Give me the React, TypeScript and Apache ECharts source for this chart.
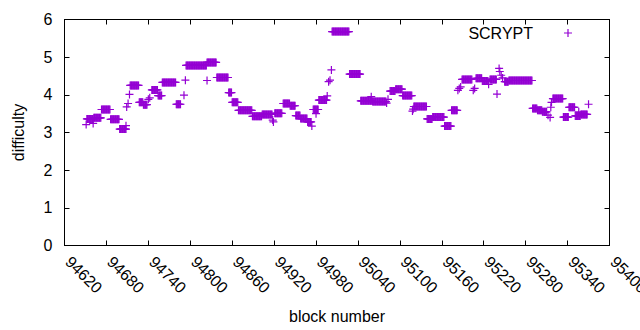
import React, { useEffect, useRef } from "react";
import * as echarts from "echarts";

// Runs of constant difficulty: [start block, end block] -> value
const runStart = [
  94652, 94662, 94673, 94686, 94699, 94714, 94727, 94733, 94745, 94754, 94760, 94780,
  94794, 94824, 94838, 94855, 94860, 94869, 94889, 94903, 94921, 94933, 94943, 94951,
  94958, 94968, 94976, 94984, 95003, 95028, 95044, 95061, 95086, 95094, 95104, 95120,
  95139, 95147, 95164, 95174, 95189, 95209, 95218, 95229, 95250, 95256, 95290, 95297,
  95304, 95319, 95334, 95342, 95351, 95359,
];
const runEnd = [
  94661, 94672, 94685, 94698, 94708, 94726, 94732, 94738, 94753, 94759, 94779, 94786,
  94823, 94837, 94854, 94859, 94868, 94888, 94902, 94917, 94931, 94942, 94950, 94957,
  94967, 94973, 94983, 94995, 95027, 95043, 95060, 95080, 95093, 95103, 95117, 95138,
  95146, 95163, 95173, 95182, 95203, 95217, 95226, 95238, 95255, 95289, 95296, 95303,
  95310, 95333, 95341, 95350, 95358, 95368,
];
const runValue = [
  3.36, 3.39, 3.61, 3.35, 3.09, 4.25, 3.80, 3.74, 4.13, 3.98, 4.33, 3.75,
  4.78, 4.86, 4.46, 4.06, 3.80, 3.59, 3.43, 3.48, 3.51, 3.77, 3.71, 3.45,
  3.37, 3.28, 3.61, 3.86, 5.68, 4.55, 3.84, 3.82, 4.10, 4.15, 3.98, 3.69,
  3.36, 3.41, 3.17, 3.59, 4.41, 4.44, 4.37, 4.41, 4.35, 4.38, 3.64, 3.59,
  3.55, 3.90, 3.41, 3.67, 3.44, 3.48,
];

// Isolated blocks
const pointBlock = [
  94651, 94661, 94708, 94709, 94711, 94713, 94740, 94742, 94791, 94793, 94824, 94918,
  94919, 94974, 94980, 94996, 94998, 95000, 95002, 95059, 95081, 95083, 95118, 95119,
  95183, 95185, 95187, 95205, 95207, 95227, 95239, 95242, 95243, 95245, 95247, 95312,
  95315, 95316, 95317, 95356, 95370,
];
const pointValue = [
  3.21, 3.24, 3.18, 3.68, 3.77, 4.01, 3.88, 3.92, 3.99, 4.39, 4.38, 3.33,
  3.28, 3.17, 3.50, 3.97, 4.35, 4.39, 4.66, 3.95, 3.78, 3.88, 3.57, 3.62,
  4.12, 4.17, 4.21, 4.12, 4.17, 4.28, 4.02, 4.70, 4.62, 4.52, 4.45, 3.46,
  3.40, 3.67, 3.80, 3.55, 3.75,
];

const seriesName = "SCRYPT";
const xMin = 94620;
const xMax = 95400;
const xStep = 60;
const yMin = 0;
const yMax = 6;
const yStep = 1;

const COLOR = "#9400d3";
const PLUS = "path://M3.4,0H4.6V3.4H8V4.6H4.6V8H3.4V4.6H0V3.4H3.4Z";
const LEGEND_ICON =
  "path://M0,0L0,0.01Z M29.4,0H30.6V3.4H34V4.6H30.6V8H29.4V4.6H26V3.4H29.4Z";
const FONT = "'Liberation Sans', Arial, sans-serif";

function buildData(): [number, number][] {
  const out: [number, number][] = [];
  runStart.forEach((s, i) => {
    for (let b = s; b <= runEnd[i]; b++) out.push([b, runValue[i]]);
  });
  pointBlock.forEach((b, i) => out.push([b, pointValue[i]]));
  return out;
}

export default function App() {
  const ref = useRef<HTMLDivElement>(null);
  useEffect(() => {
    if (!ref.current) return;
    const chart = echarts.init(ref.current, undefined, { renderer: "svg" });
    const axisLine = { show: true, onZero: false, lineStyle: { color: "#000", width: 1 } };
    const axisTick = { show: true, inside: true, length: 5, lineStyle: { color: "#000", width: 1 } };
    const labelStyle = { fontSize: 16, color: "#000", fontFamily: FONT };
    chart.setOption({
      animation: false,
      textStyle: { fontFamily: FONT },
      grid: {
        left: 64.5,
        right: 30.5,
        top: 19.5,
        bottom: 84.5,
        containLabel: false,
        outerBoundsMode: "none",
      },
      legend: {
        show: true,
        data: [{ name: seriesName, icon: LEGEND_ICON }],
        right: 68,
        top: 25,
        padding: 0,
        align: "right",
        itemWidth: 34,
        itemHeight: 8,
        textStyle: { ...labelStyle },
      },
      xAxis: [
        {
          type: "value",
          position: "bottom",
          min: xMin,
          max: xMax,
          interval: xStep,
          axisLine,
          axisTick,
          splitLine: { show: false },
          axisLabel: {
            ...labelStyle,
            rotate: -45,
            margin: 10,
            padding: [0, 0, 0, 5],
            showMinLabel: true,
            showMaxLabel: true,
            formatter: (v: number) => String(v),
          },
          name: "block number",
          nameLocation: "middle",
          nameGap: 63,
          nameTextStyle: { ...labelStyle },
        },
        {
          type: "value",
          position: "top",
          min: xMin,
          max: xMax,
          interval: xStep,
          axisLine,
          axisTick,
          splitLine: { show: false },
          axisLabel: { show: false },
        },
      ],
      yAxis: [
        {
          type: "value",
          position: "left",
          min: yMin,
          max: yMax,
          interval: yStep,
          axisLine,
          axisTick,
          splitLine: { show: false },
          axisLabel: { ...labelStyle, margin: 12 },
          name: "difficulty",
          nameLocation: "middle",
          nameGap: 38,
          nameTextStyle: { ...labelStyle },
        },
        {
          type: "value",
          position: "right",
          min: yMin,
          max: yMax,
          interval: yStep,
          axisLine,
          axisTick,
          splitLine: { show: false },
          axisLabel: { show: false },
        },
      ],
      series: [
        {
          type: "scatter",
          name: seriesName,
          xAxisIndex: 0,
          yAxisIndex: 0,
          symbol: PLUS,
          symbolSize: 8,
          itemStyle: { color: COLOR, opacity: 1 },
          data: buildData(),
        },
      ],
    });
    return () => chart.dispose();
  }, []);
  return (
    <div
      ref={ref}
      style={{ position: "fixed", left: 0, top: 0, width: 640, height: 330, background: "#fff" }}
    />
  );
}
